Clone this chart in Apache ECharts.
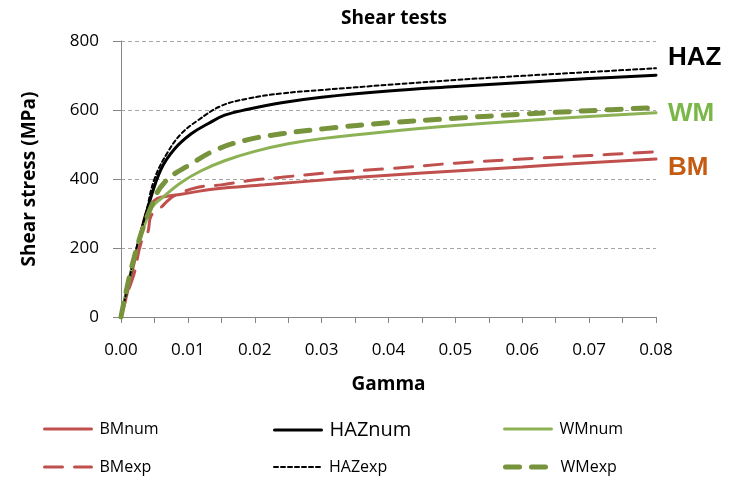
<!DOCTYPE html>
<html>
<head>
<meta charset="utf-8">
<script src="https://cdn.jsdelivr.net/npm/echarts@6/dist/echarts.min.js"></script>
<style>
  html, body { margin: 0; padding: 0; background: #fff; }
  #chart { width: 741px; height: 480px; }
</style>
</head>
<body>
<div id="chart"></div>
<script>
// 数据: [gamma, 剪应力 MPa]
const bmNum = [[0,0],[0.001,75],[0.002,160],[0.003,245],[0.004,315],[0.005,338],[0.006,347],[0.009,356],[0.014,371],[0.0215,383],[0.032,400],[0.04,411],[0.05,423],[0.06,435],[0.07,447],[0.08,458]];
const bmExp = [[0,0],[0.001,70],[0.002,128],[0.003,215],[0.004,245],[0.0045,293],[0.006,318],[0.007,337],[0.008,352],[0.0115,376],[0.015,383],[0.019,395],[0.024,405],[0.031,418],[0.04,430],[0.05,446],[0.06,458],[0.07,468],[0.08,479]];
const hazNum = [[0,0],[0.002,170],[0.00425,332],[0.006,429],[0.008,487],[0.0105,531],[0.013,560],[0.0155,585],[0.019,602],[0.024,621],[0.03,637],[0.04,655],[0.05,668],[0.06,680],[0.07,691],[0.08,701]];
const hazExp = [[0,0],[0.002,175],[0.00375,303],[0.005,400],[0.007,478],[0.009,531],[0.0115,570],[0.015,612],[0.019,633],[0.024,648],[0.03,658],[0.04,673],[0.05,687],[0.06,699],[0.07,710],[0.08,721]];
const wmNum = [[0,0],[0.002,170],[0.0045,313],[0.0065,351],[0.009,390],[0.012,424],[0.0155,453],[0.02,480],[0.025,502],[0.03,517],[0.04,538],[0.05,555],[0.06,569],[0.07,581],[0.08,592]];
const wmExp = [[0,0],[0.002,175],[0.0045,320],[0.0065,390],[0.0105,444],[0.0145,487],[0.019,514],[0.024,531],[0.0305,546],[0.04,563],[0.05,576],[0.06,588],[0.07,598],[0.08,607]];
const xTicks = [0, 0.08, 0.01];
const yTicks = [0, 800, 200];

const font = '"Open Sans", "Noto Sans", sans-serif';
const red = '#c0504d', black = '#000000', green1 = '#8db255', green2 = '#77933c';

const chart = echarts.init(document.getElementById('chart'));

function line(name, data, color, width, type, endText, endColor, offY) {
  const s = {
    name: name,
    type: 'line',
    data: data,
    symbol: 'none',
    smooth: 0.4,
    lineStyle: { color: color, width: width, type: type, cap: 'round' },
    itemStyle: { color: color }
  };
  if (endText) {
    s.endLabel = {
      show: true,
      formatter: endText,
      color: endColor,
      fontFamily: 'Liberation Sans, Arial, sans-serif',
      fontWeight: 'bold',
      fontSize: 26,
      offset: [4, offY]
    };
  }
  return s;
}

// 每个图例项单独一个 legend，方便定位
function legendItem(left, top, name, size) {
  return {
    left: left,
    top: top,
    padding: 0,
    data: [name],
    itemWidth: 47,
    itemHeight: 14,
    itemStyle: { opacity: 0 },
    lineStyle: { width: 'inherit', type: 'inherit', color: 'inherit' },
    textStyle: { fontFamily: font, fontSize: size || 16, color: '#000', padding: [0, 0, 0, 3] }
  };
}

const option = {
  animation: false,
  title: {
    text: 'Shear tests',
    left: 389,
    textAlign: 'center',
    top: 4,
    textStyle: { fontFamily: font, fontWeight: 'bold', fontSize: 19, color: '#000' }
  },
  grid: { left: 121, right: 85, top: 41, bottom: 163 },
  legend: [
    legendItem(43, 421, 'BMnum'),
    legendItem(43, 459, 'BMexp'),
    legendItem(273, 420, 'HAZnum', 20),
    legendItem(273, 459, 'HAZexp'),
    legendItem(503, 421, 'WMnum'),
    legendItem(503, 459, 'WMexp')
  ],
  xAxis: {
    type: 'value',
    min: xTicks[0], max: xTicks[1], interval: xTicks[2],
    name: 'Gamma',
    nameLocation: 'middle',
    nameGap: 58,
    nameTextStyle: { fontFamily: font, fontWeight: 'bold', fontSize: 19, color: '#000' },
    axisLine: { show: true, lineStyle: { color: '#868686', width: 1 } },
    axisTick: { show: true, length: 6, lineStyle: { color: '#868686' } },
    minorTick: { show: true, splitNumber: 2, length: 6, lineStyle: { color: '#868686' } },
    splitLine: { show: false },
    axisLabel: {
      fontFamily: font, fontSize: 17, color: '#000', margin: 25,
      formatter: function (v) { return v.toFixed(2); }
    }
  },
  yAxis: {
    type: 'value',
    min: yTicks[0], max: yTicks[1], interval: yTicks[2],
    name: 'Shear stress (MPa)',
    nameLocation: 'middle',
    nameGap: 82,
    nameTextStyle: { fontFamily: font, fontWeight: 'bold', fontSize: 19, color: '#000' },
    axisLine: { show: true, lineStyle: { color: '#868686', width: 1 } },
    axisTick: { show: true, length: 8, lineStyle: { color: '#868686' } },
    splitLine: { show: true, lineStyle: { color: '#a6a6a6', type: [4, 3], width: 1 } },
    axisLabel: { fontFamily: font, fontSize: 17, color: '#000', margin: 22 }
  },
  series: [
    line('BMnum', bmNum, red, 3, 'solid'),
    line('HAZnum', hazNum, black, 3, 'solid'),
    line('WMnum', wmNum, green1, 3, 'solid'),
    line('BMexp', bmExp, red, 3, [18, 12], 'BM', '#c55a11', 16),
    line('HAZexp', hazExp, black, 2, [4, 3], 'HAZ', '#000', -10),
    line('WMexp', wmExp, green2, 5, [14, 12], 'WM', '#7ab648', 6)
  ]
};

chart.setOption(option);
</script>
</body>
</html>
